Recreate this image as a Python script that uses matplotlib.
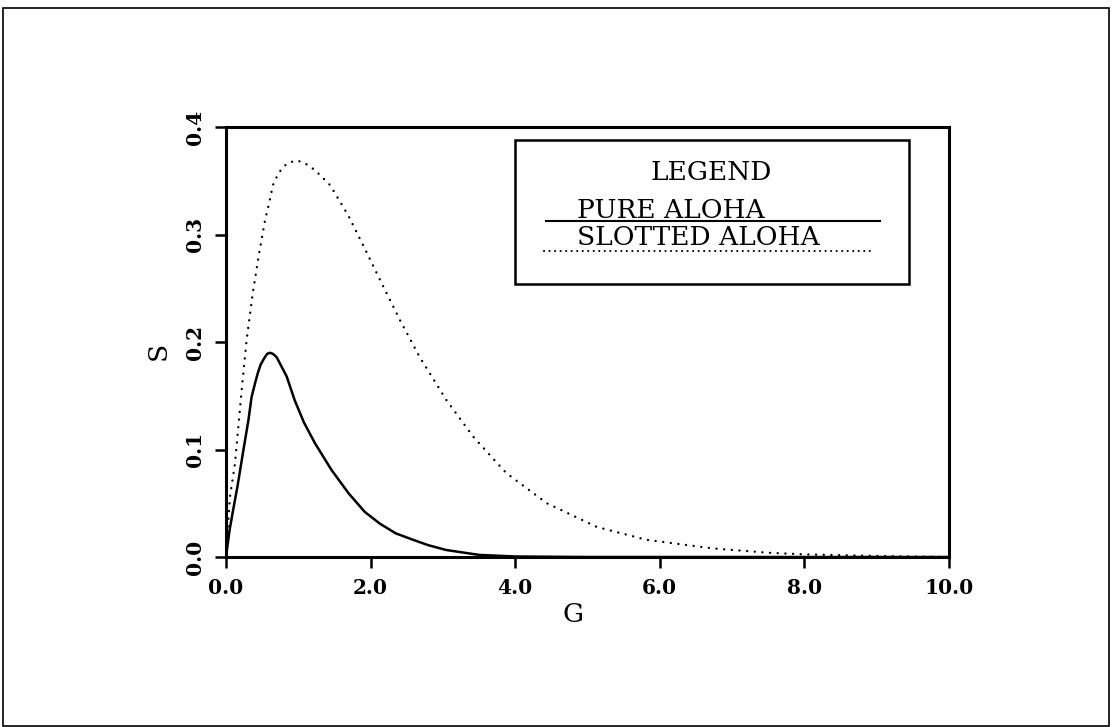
import numpy as np
import matplotlib
matplotlib.use("Agg")
import matplotlib.pyplot as plt
from matplotlib.patches import Rectangle

# values
pure_g = [0.0, 0.05, 0.10, 0.16, 0.25, 0.31, 0.355, 0.40, 0.44, 0.48, 0.53, 0.57, 0.61,
          0.65, 0.70, 0.77, 0.84, 0.95, 1.08, 1.23, 1.46, 1.70, 1.92, 2.13, 2.35, 2.59,
          2.80, 3.05, 3.5, 4.0, 5.0, 7.0, 10.0]
pure_s = [0.0, 0.025, 0.044, 0.066, 0.103, 0.127, 0.149, 0.161, 0.171, 0.179, 0.185, 0.189, 0.190,
          0.189, 0.186, 0.177, 0.168, 0.146, 0.125, 0.106, 0.081, 0.059, 0.042, 0.031, 0.022, 0.016,
          0.011, 0.0065, 0.002, 0.0005, 0.0, 0.0, 0.0]

slot_g = [0.0, 0.055, 0.125, 0.217, 0.286, 0.37, 0.45, 0.54, 0.60, 0.65, 0.72, 0.79, 0.88,
          0.98, 1.10, 1.23, 1.44, 1.69, 1.92, 2.13, 2.41, 2.68, 3.05, 3.42, 3.88, 4.44, 5.13,
          5.82, 6.74, 7.5, 8.0, 9.0, 10.0]
slot_s = [0.0, 0.056, 0.087, 0.155, 0.202, 0.245, 0.279, 0.313, 0.330, 0.346, 0.356, 0.363, 0.367,
          0.369, 0.366, 0.360, 0.346, 0.318, 0.287, 0.258, 0.220, 0.186, 0.146, 0.112, 0.078, 0.050,
          0.028, 0.016, 0.008, 0.004, 0.0025, 0.001, 0.0]

xticks = [0, 2, 4, 6, 8, 10]
yticks = [0.0, 0.1, 0.2, 0.3, 0.4]

fig = plt.figure(figsize=(11.12, 7.27), dpi=100)
ax = fig.add_axes([0.2032, 0.2338, 0.650, 0.5915])

ax.plot(pure_g, pure_s, color="black", lw=1.8, solid_joinstyle="round")
ax.plot(slot_g, slot_s, color="black", lw=1.7, dashes=(0.05, 3.2), dash_capstyle="round")

ax.set_xlim(0, 10)
ax.set_ylim(0, 0.4)
ax.set_xticks(xticks)
ax.set_xticklabels(["%.1f" % v for v in xticks])
ax.set_yticks(yticks)
ax.set_yticklabels(["%.1f" % v for v in yticks], rotation=90, va="center")
for lab in ax.get_xticklabels() + ax.get_yticklabels():
    lab.set_fontfamily("DejaVu Serif")
    lab.set_fontweight("bold")
    lab.set_fontsize(14.5)
ax.tick_params(direction="out", length=8, width=1.8, pad=7)
for sp in ax.spines.values():
    sp.set_linewidth(2.2)

ax.set_xlabel("G", fontfamily="DejaVu Serif", fontsize=19)
ax.xaxis.set_label_coords(0.48, -0.105)
ax.set_ylabel("S", fontfamily="DejaVu Serif", fontsize=19)
ax.yaxis.set_label_coords(-0.077, 0.48)

# hand drawn legend box
ax.add_patch(Rectangle((0.400, 0.635), 0.545, 0.335, transform=ax.transAxes,
                       fill=False, lw=1.8, ec="black", clip_on=False))
tf = dict(transform=ax.transAxes, fontfamily="DejaVu Serif", fontsize=19)
ax.text(0.672, 0.877, "LEGEND", ha="center", va="baseline", **tf)
ax.text(0.486, 0.788, "PURE ALOHA", ha="left", va="baseline", **tf)
ax.plot([0.443, 0.905], [0.781, 0.781], transform=ax.transAxes, color="black", lw=1.5)
ax.text(0.486, 0.726, "SLOTTED ALOHA", ha="left", va="baseline", **tf)
ax.plot([0.440, 0.898], [0.712, 0.712], transform=ax.transAxes, color="black",
        lw=1.5, dashes=(0.05, 2.6), dash_capstyle="round")

# page frame
fig.patches.append(Rectangle((0.003, 0.002), 0.994, 0.987, transform=fig.transFigure,
                             fill=False, lw=1.2, ec="black"))

fig.savefig("out.png", dpi=100)
